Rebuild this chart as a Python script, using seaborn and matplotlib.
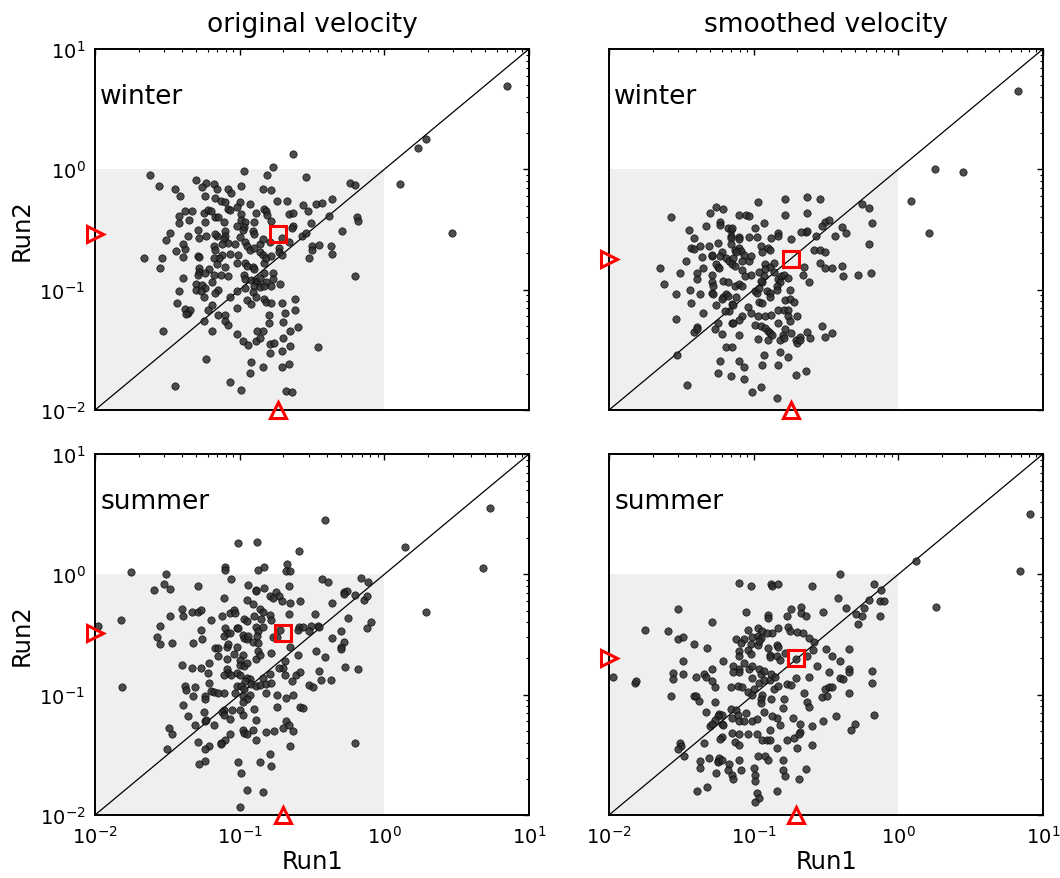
import numpy as np
import matplotlib
matplotlib.use("Agg")
import matplotlib.pyplot as plt
import seaborn as sns
from matplotlib.patches import Rectangle

# --- data: log10 velocities ---
# winter, original velocity
WINTER_ORIG_RUN1 = [
    -0.63, -0.77, -0.97, -1.62, -0.81, -0.54, -1.30, -1.56, -1.23, -1.18,
    -1.26, -0.99, -1.45, -1.16, -0.84, -0.78, -1.08, -1.06, -1.41, -1.24,
    -1.17, -1.13, -1.10, -1.00, -0.74, -0.67, -0.93, -1.02, -0.56, -0.47,
    -0.43, -0.36, -0.24, -0.20, -0.83, -0.82, -1.08, -1.07, -1.38, -1.33,
    -1.25, -1.22, -1.20, -0.99, -0.89, -0.66, -0.63, -0.53, -0.38, -1.42,
    -1.17, -1.15, -1.11, -0.99, -0.96, -0.90, -0.81, -0.78, -1.35, -1.24,
    -1.29, -1.42, -1.02, -0.97, -0.98, -0.91, -0.90, -1.10, -1.10, -1.16,
    -1.23, -1.28, -1.48, -1.36, -1.51, -1.17, -1.11, -1.08, -1.12, -1.00,
    -1.03, -0.96, -0.95, -0.86, -0.84, -0.79, -0.71, -0.66, -0.63, -0.64,
    -0.57, -0.54, -0.51, -0.29, -0.19, -0.18, -0.50, -0.45, -0.37, -0.50,
    -0.36, -0.52, -0.73, -0.73, -0.71, -1.38, -1.39, -1.44, -1.39, -1.29,
    -1.28, -1.66, -1.54, -1.55, -1.18, -1.17, -1.07, -1.12, -1.14, -1.18,
    -1.16, -1.01, -0.93, -0.90, -0.86, -0.84, -0.83, -0.82, -0.78, -1.02,
    -0.96, -0.95, -0.91, -0.90, -1.10, -1.28, -1.28, -1.29, -1.21, -1.24,
    -1.18, -1.13, -1.08, -1.39, -0.97, -0.96, -0.92, -0.89, -0.88, -0.90,
    -0.83, -0.77, -0.77, -0.78, -0.82, -0.72, -0.86, -0.20, -1.30, -1.26,
    -1.30, -1.24, -1.27, -1.19, -1.15, -1.17, -0.96, -1.02, -0.91, -0.86,
    -0.83, -0.89, -1.42, -1.25, -1.07, -0.83, -0.82, -0.95, -0.92, -0.78,
    -0.71, -0.62, -1.43, -1.02, -1.19, -1.38, -1.36, -1.34, -1.37, -1.22,
    -1.15, -1.10, -0.69, -0.62, -0.80, -1.25, -1.10, -1.08, -0.80, -0.70,
    -0.60, -0.65, -0.84, -0.88, -1.19, -1.02, -1.53, -0.98, -0.94, -0.89,
    -0.86, -0.79, -0.76, -0.70, -0.65, -0.79, -0.71, -0.46, -1.23, -0.92,
    -0.93, -0.84, -0.71, -0.66, -1.45, -1.07, -0.99, -0.68, -0.64, 0.85,
    0.23, 0.29, 0.11, 0.47,
]
WINTER_ORIG_RUN2 = [
    0.125, 0.02, -0.01, -0.05, -0.05, -0.06, -0.09, -0.14, -0.11, -0.12,
    -0.15, -0.14, -0.16, -0.16, -0.16, -0.17, -0.16, -0.20, -0.22, -0.22,
    -0.24, -0.26, -0.27, -0.27, -0.26, -0.26, -0.29, -0.31, -0.30, -0.29,
    -0.28, -0.25, -0.11, -0.13, -0.33, -0.35, -0.33, -0.34, -0.35, -0.35,
    -0.36, -0.34, -0.35, -0.37, -0.36, -0.37, -0.36, -0.35, -0.39, -0.39,
    -0.40, -0.40, -0.44, -0.42, -0.44, -0.44, -0.38, -0.43, -0.42, -0.44,
    -0.50, -0.45, -0.47, -0.48, -0.50, -0.51, -0.54, -0.51, -0.55, -0.55,
    -0.55, -0.57, -0.53, -0.55, -0.59, -0.54, -0.58, -0.61, -0.62, -0.56,
    -0.62, -0.60, -0.64, -0.62, -0.58, -0.60, -0.57, -0.60, -0.47, -0.49,
    -0.55, -0.53, -0.45, -0.51, -0.40, -0.43, -0.64, -0.63, -0.64, -0.67,
    -0.70, -0.74, -0.65, -0.69, -0.71, -0.66, -0.62, -0.68, -0.73, -0.72,
    -0.73, -0.74, -0.74, -0.82, -0.64, -0.67, -0.70, -0.71, -0.74, -0.74,
    -0.79, -0.71, -0.67, -0.65, -0.69, -0.71, -0.78, -0.74, -0.72, -0.78,
    -0.78, -0.80, -0.81, -0.83, -0.81, -0.82, -0.85, -0.88, -0.83, -0.86,
    -0.88, -0.88, -0.89, -0.90, -0.88, -0.91, -0.92, -0.93, -0.94, -0.97,
    -0.86, -0.86, -0.91, -0.97, -0.94, -0.95, -0.90, -0.89, -0.95, -0.96,
    -1.00, -0.99, -1.01, -0.94, -1.00, -1.03, -0.99, -1.01, -1.02, -0.98,
    -0.97, -1.06, -1.01, -1.06, -1.06, -1.08, -1.10, -1.09, -1.12, -1.11,
    -1.11, -1.08, -1.11, -1.15, -1.13, -1.16, -1.19, -1.17, -1.20, -1.17,
    -1.21, -1.21, -1.19, -1.17, -1.21, -1.26, -1.26, -1.29, -1.28, -1.27,
    -1.31, -1.34, -1.34, -1.34, -1.34, -1.37, -1.34, -1.43, -1.46, -1.43,
    -1.40, -1.45, -1.44, -1.40, -1.47, -1.53, -1.51, -1.48, -1.58, -1.60,
    -1.69, -1.64, -1.64, -1.62, -1.80, -1.77, -1.83, -1.84, -1.85, 0.69,
    0.175, 0.25, -0.125, -0.53,
]

# winter, smoothed velocity
WINTER_SMOOTH_RUN1 = [
    -0.97, -0.78, -0.63, -0.54, -1.26, -1.30, -1.21, -1.57, -1.10, -1.05,
    -1.03, -0.78, -0.63, -0.25, -0.20, -0.18, -0.51, -0.48, -0.53, -0.39,
    -0.36, -0.44, -0.57, -0.64, -0.63, -0.67, -0.74, -0.83, -0.83, -0.88,
    -0.93, -0.99, -1.03, -0.98, -1.23, -1.23, -1.33, -1.45, -1.41, -1.18,
    -1.16, -1.15, -1.16, -1.16, -1.10, -1.10, -1.25, -1.31, -1.43, -1.41,
    -1.37, -1.16, -1.13, -1.10, -1.09, -1.12, -1.22, -1.23, -1.29, -1.29,
    -1.36, -1.47, -1.65, -1.62, -1.51, -1.54, -1.54, -1.44, -1.39, -1.39,
    -1.35, -1.37, -1.43, -1.35, -1.29, -1.29, -1.28, -1.29, -1.28, -1.25,
    -1.26, -1.24, -1.19, -1.17, -1.14, -1.15, -1.13, -1.07, -1.08, -1.03,
    -1.02, -0.95, -0.90, -0.89, -0.94, -0.92, -0.89, -0.92, -0.96, -0.93,
    -0.86, -0.86, -0.83, -0.81, -0.82, -0.79, -0.76, -1.08, -1.02, -1.06,
    -1.21, -1.18, -1.13, -1.10, -1.08, -0.99, -0.98, -0.96, -0.94, -0.95,
    -0.91, -0.89, -0.89, -0.84, -0.84, -0.75, -0.65, -0.66, -0.62, -0.58,
    -0.54, -0.51, -0.54, -0.51, -0.46, -0.39, -0.38, -0.28, -0.19, -0.20,
    -1.19, -1.21, -1.18, -1.12, -1.26, -1.22, -1.15, -1.14, -1.04, -1.02,
    -1.17, -1.20, -0.96, -0.94, -0.78, -0.75, -0.72, -1.08, -1.10, -1.15,
    -1.14, -0.97, -0.92, -0.88, -0.83, -0.79, -0.76, -0.76, -0.75, -0.70,
    -1.25, -1.39, -1.41, -1.39, -1.27, -1.22, -1.10, -0.99, -0.95, -0.92,
    -0.90, -0.89, -0.87, -0.90, -0.83, -0.82, -0.80, -0.79, -0.78, -0.74,
    -0.71, -0.70, -0.68, -0.68, -0.63, -0.61, -0.53, -0.51, -0.46, -0.97,
    -1.19, -1.15, -1.53, -1.23, -0.93, -0.82, -0.76, -1.10, -1.07, -0.94,
    -0.83, -1.25, -0.64, -0.71, -1.16, -1.07, -1.46, -1.01, -0.95, -0.84,
    0.83, 0.255, 0.45, 0.09, 0.21,
]
WINTER_SMOOTH_RUN2 = [
    -0.27, -0.25, -0.23, -0.25, -0.31, -0.36, -0.33, -0.40, -0.38, -0.38,
    -0.39, -0.38, -0.36, -0.29, -0.32, -0.45, -0.44, -0.42, -0.47, -0.48,
    -0.53, -0.55, -0.55, -0.52, -0.51, -0.52, -0.58, -0.53, -0.55, -0.57,
    -0.45, -0.49, -0.56, -0.56, -0.44, -0.46, -0.47, -0.50, -0.57, -0.49,
    -0.50, -0.49, -0.55, -0.57, -0.56, -0.58, -0.61, -0.64, -0.65, -0.66,
    -0.64, -0.62, -0.67, -0.65, -0.68, -0.69, -0.69, -0.72, -0.72, -0.71,
    -0.73, -0.76, -0.82, -0.95, -0.86, -1.04, -1.24, -1.00, -0.86, -0.91,
    -0.82, -1.04, -1.11, -1.19, -0.88, -0.94, -0.97, -1.03, -1.04, -0.81,
    -0.79, -0.82, -0.74, -0.76, -0.74, -0.79, -0.80, -0.71, -0.76, -0.76,
    -0.72, -0.64, -0.65, -0.67, -0.69, -0.79, -0.81, -0.83, -0.85, -0.89,
    -0.78, -0.85, -0.91, -0.89, -0.94, -0.88, -0.90, -0.84, -0.88, -0.89,
    -0.93, -0.94, -0.97, -0.95, -0.97, -1.01, -1.03, -0.99, -0.94, -0.93,
    -1.01, -1.03, -1.06, -0.97, -1.00, -1.00, -0.81, -0.88, -0.94, -0.67,
    -0.67, -0.69, -0.78, -0.82, -0.82, -0.80, -0.89, -0.88, -0.86, -0.62,
    -1.04, -1.06, -1.05, -1.06, -1.13, -1.08, -1.12, -1.13, -1.14, -1.19,
    -1.18, -1.18, -1.10, -1.11, -1.09, -1.08, -1.10, -1.22, -1.25, -1.28,
    -1.28, -1.22, -1.22, -1.21, -1.17, -1.17, -1.17, -1.22, -1.26, -1.22,
    -1.28, -1.31, -1.35, -1.33, -1.33, -1.37, -1.38, -1.29, -1.30, -1.32,
    -1.34, -1.36, -1.38, -1.42, -1.28, -1.42, -1.38, -1.40, -1.33, -1.36,
    -1.42, -1.44, -1.39, -1.42, -1.35, -1.40, -1.30, -1.39, -1.36, -1.41,
    -1.48, -1.48, -1.54, -1.59, -1.54, -1.52, -1.56, -1.59, -1.64, -1.63,
    -1.63, -1.69, -1.68, -1.71, -1.72, -1.74, -1.79, -1.85, -1.81, -1.90,
    0.65, 0.0, -0.02, -0.26, -0.53,
]

# summer, original velocity
SUMMER_ORIG_RUN1 = [
    -1.01, -0.88, -0.59, -1.10, -1.10, -0.87, -0.83, -0.67, -0.68, -0.65,
    -1.75, -1.51, -1.06, -1.52, -1.48, -1.59, -1.29, -0.94, -0.89, -0.89,
    -0.83, -0.66, -0.43, -0.39, -0.16, -0.11, -0.75, -0.73, -0.79, -0.77,
    -0.71, -0.65, -0.58, -1.11, -0.95, -0.91, -0.36, -0.28, -0.26, -0.28,
    -0.20, -0.14, -0.12, -1.40, -1.33, -1.29, -1.27, -1.48, -1.39, -1.20,
    -1.12, -1.07, -1.04, -1.03, -0.97, -0.95, -0.90, -0.86, -0.84, -0.85,
    -0.79, -0.78, -0.66, -0.48, -0.46, -0.45, -0.51, -0.59, -0.25, -0.09,
    -0.12, -0.30, -0.36, -0.28, -0.30, -0.30, -1.82, -1.55, -1.57, -1.55,
    -1.47, -1.32, -1.26, -1.27, -1.10, -1.09, -1.11, -1.07, -1.02, -1.01,
    -0.98, -0.97, -0.95, -0.94, -0.91, -0.89, -0.87, -0.84, -0.88, -0.87,
    -0.77, -0.74, -0.65, -0.60, -0.56, -0.52, -0.72, -1.17, -1.15, -1.09,
    -1.08, -1.02, -1.15, -1.09, -1.04, -0.98, -1.00, -1.00, -0.97, -0.95,
    -0.87, -0.89, -0.86, -0.78, -0.69, -0.70, -0.60, -0.47, -0.41, -1.40,
    -1.33, -1.27, -1.21, -1.22, -1.09, -1.08, -1.11, -1.06, -1.02, -1.00,
    -0.95, -0.93, -0.96, -0.84, -0.79, -0.73, -0.69, -0.64, -0.61, -0.58,
    -0.45, -0.44, -0.37, -0.27, -0.18, -0.52, -0.49, -1.21, -1.20, -1.38,
    -1.37, -1.31, -1.18, -1.15, -1.02, -0.99, -0.97, -0.92, -0.89, -0.86,
    -0.82, -0.78, -1.03, -0.98, -0.93, -0.95, -0.98, -1.11, -0.82, -0.74,
    -0.68, -0.63, -0.58, -0.56, -1.32, -1.24, -1.24, -1.39, -1.36, -1.11,
    -1.05, -1.00, -0.90, -0.74, -1.25, -1.24, -1.23, -1.12, -1.11, -1.07,
    -0.98, -0.89, -1.31, -1.18, -1.07, -1.10, -1.13, -1.13, -0.98, -0.97,
    -0.95, -0.91, -0.82, -0.76, -0.70, -0.68, -0.66, -0.63, -0.65, -1.49,
    -1.47, -1.50, -1.29, -1.21, -1.24, -0.89, -0.79, -1.24, -1.28, -1.01,
    -0.86, -0.78, -0.99, -0.20, -1.81, -0.95, -0.84, -1.00, -1.98, -0.41,
    0.14, 0.29, 0.68, 0.73,
]
SUMMER_ORIG_RUN2 = [
    0.26, 0.27, 0.19, 0.06, 0.04, 0.04, 0.06, 0.09, 0.03, 0.03,
    0.02, 0.00, -0.04, -0.08, -0.12, -0.13, -0.10, -0.09, -0.13, -0.14,
    -0.11, -0.10, -0.04, -0.06, -0.03, -0.06, -0.15, -0.18, -0.18, -0.20,
    -0.22, -0.24, -0.22, -0.20, -0.21, -0.25, -0.24, -0.15, -0.14, -0.16,
    -0.17, -0.21, -0.18, -0.29, -0.31, -0.31, -0.30, -0.35, -0.35, -0.38,
    -0.35, -0.32, -0.30, -0.32, -0.37, -0.39, -0.35, -0.29, -0.31, -0.37,
    -0.34, -0.38, -0.33, -0.33, -0.43, -0.44, -0.43, -0.44, -0.36, -0.40,
    -0.45, -0.47, -0.53, -0.56, -0.60, -0.62, -0.38, -0.43, -0.52, -0.58,
    -0.57, -0.57, -0.54, -0.46, -0.45, -0.49, -0.51, -0.49, -0.45, -0.45,
    -0.50, -0.53, -0.54, -0.51, -0.56, -0.44, -0.47, -0.44, -0.51, -0.57,
    -0.52, -0.52, -0.60, -0.46, -0.44, -0.47, -0.46, -0.61, -0.61, -0.60,
    -0.58, -0.60, -0.68, -0.70, -0.66, -0.67, -0.71, -0.75, -0.76, -0.74,
    -0.64, -0.70, -0.67, -0.65, -0.72, -0.78, -0.67, -0.64, -0.69, -0.75,
    -0.78, -0.78, -0.74, -0.82, -0.79, -0.82, -0.84, -0.84, -0.82, -0.84,
    -0.86, -0.87, -0.89, -0.86, -0.83, -0.78, -0.84, -0.89, -0.84, -0.81,
    -0.80, -0.88, -0.88, -0.77, -0.79, -0.92, -0.94, -0.90, -0.97, -0.93,
    -0.96, -0.94, -0.98, -0.99, -0.93, -0.93, -0.95, -0.91, -0.93, -0.92,
    -0.91, -0.90, -0.99, -1.01, -1.00, -1.04, -1.06, -0.99, -0.99, -1.00,
    -1.03, -1.00, -1.10, -1.11, -1.01, -1.01, -1.04, -1.09, -1.18, -1.13,
    -1.13, -1.13, -1.12, -1.10, -1.14, -1.22, -1.21, -1.14, -1.17, -1.20,
    -1.17, -1.21, -1.25, -1.25, -1.33, -1.38, -1.40, -1.41, -1.29, -1.32,
    -1.33, -1.29, -1.31, -1.30, -1.28, -1.22, -1.25, -1.30, -1.43, -1.28,
    -1.33, -1.45, -1.39, -1.43, -1.45, -1.38, -1.49, -1.55, -1.58, -1.56,
    -1.56, -1.59, -1.65, -1.40, -0.94, -1.79, -1.81, -1.93, -0.43, 0.45,
    0.23, -0.31, 0.05, 0.55,
]

# summer, smoothed velocity
SUMMER_SMOOTH_RUN1 = [
    -0.40, -1.10, -1.02, -0.88, -0.87, -0.83, -0.60, -0.17, -0.12, -0.42,
    -0.20, -0.13, -0.10, -0.36, -0.24, -0.29, -0.25, -0.28, -0.13, -1.52,
    -1.05, -0.90, -0.90, -0.74, -0.77, -0.67, -0.67, -0.64, -0.52, -1.29,
    -1.75, -1.59, -1.52, -1.49, -1.41, -1.32, -1.04, -0.97, -0.94, -0.87,
    -0.83, -0.76, -0.75, -0.70, -0.66, -0.62, -0.58, -1.12, -1.07, -1.01,
    -0.97, -0.95, -0.91, -1.09, -1.02, -0.97, -0.96, -0.90, -0.84, -0.83,
    -1.10, -1.04, -1.02, -1.10, -0.89, -0.89, -0.84, -0.82, -0.78, -0.71,
    -0.63, -0.59, -0.50, -0.46, -0.40, -0.34, -1.49, -1.49, -1.56, -1.56,
    -1.97, -1.82, -1.81, -1.40, -1.34, -1.33, -1.29, -1.29, -1.27, -1.21,
    -1.14, -1.10, -1.10, -1.14, -1.07, -1.03, -1.01, -0.96, -0.95, -0.93,
    -1.01, -0.96, -0.93, -0.89, -0.88, -0.85, -1.16, -1.11, -1.08, -1.04,
    -1.00, -1.01, -0.94, -0.95, -0.95, -0.88, -0.86, -0.83, -0.77, -0.74,
    -0.71, -0.62, -0.56, -0.48, -0.40, -0.38, -0.34, -0.34, -0.51, -0.48,
    -0.46, -0.53, -0.49, -0.34, -0.18, -0.18, -0.65, -0.63, -0.62, -0.79,
    -0.80, -0.84, -1.57, -1.41, -1.40, -1.38, -1.33, -1.27, -1.24, -1.22,
    -1.25, -1.22, -1.21, -1.27, -1.30, -1.29, -1.16, -1.15, -1.12, -1.11,
    -1.10, -1.07, -1.05, -1.01, -0.98, -0.93, -0.87, -0.82, -0.73, -0.68,
    -0.68, -0.60, -0.60, -0.52, -0.43, -0.30, -0.33, -0.17, -1.22, -1.23,
    -1.15, -1.13, -1.10, -1.10, -1.04, -0.98, -0.94, -0.91, -0.89, -0.89,
    -0.84, -0.77, -0.72, -0.70, -0.69, -1.51, -1.50, -1.52, -1.48, -1.34,
    -1.37, -1.37, -1.31, -1.25, -1.24, -1.25, -1.22, -1.17, -1.18, -1.26,
    -1.15, -1.14, -1.10, -1.09, -0.97, -0.92, -0.90, -1.00, -0.99, -0.99,
    -0.80, -0.80, -0.78, -0.69, -0.64, -0.98, -0.96, -0.99, -0.84, -1.32,
    -1.39, 0.91, 0.84, 0.12, 0.26,
]
SUMMER_SMOOTH_RUN2 = [
    0.00, -0.07, -0.10, -0.08, -0.10, -0.08, -0.10, -0.08, -0.13, -0.20,
    -0.21, -0.22, -0.22, -0.28, -0.28, -0.33, -0.35, -0.41, -0.35, -0.29,
    -0.31, -0.34, -0.36, -0.29, -0.35, -0.27, -0.32, -0.35, -0.31, -0.40,
    -0.46, -0.47, -0.54, -0.52, -0.58, -0.61, -0.46, -0.45, -0.47, -0.49,
    -0.45, -0.44, -0.47, -0.48, -0.49, -0.53, -0.56, -0.54, -0.54, -0.52,
    -0.51, -0.53, -0.49, -0.57, -0.58, -0.59, -0.55, -0.61, -0.59, -0.60,
    -0.64, -0.63, -0.66, -0.68, -0.67, -0.69, -0.68, -0.71, -0.65, -0.70,
    -0.68, -0.63, -0.62, -0.68, -0.72, -0.62, -0.72, -0.83, -0.82, -0.87,
    -0.85, -0.90, -0.89, -0.85, -0.83, -0.85, -0.79, -0.89, -0.94, -0.72,
    -0.76, -0.79, -0.81, -0.81, -0.74, -0.79, -0.76, -0.79, -0.83, -0.80,
    -0.86, -0.90, -0.88, -0.88, -0.83, -0.85, -0.94, -0.93, -0.94, -0.98,
    -0.95, -1.00, -1.00, -1.04, -1.07, -1.04, -0.95, -0.93, -0.91, -0.92,
    -0.86, -0.85, -0.76, -0.81, -0.86, -0.87, -0.79, -0.81, -0.95, -0.94,
    -0.94, -1.02, -1.01, -0.99, -0.80, -0.90, -0.99, -1.06, -1.10, -1.04,
    -1.11, -1.19, -1.01, -1.01, -1.01, -1.05, -1.14, -1.06, -1.16, -1.17,
    -1.18, -1.24, -1.25, -1.21, -1.26, -1.24, -1.12, -1.19, -1.13, -1.17,
    -1.22, -1.22, -1.15, -1.22, -1.20, -1.14, -1.18, -1.25, -1.19, -1.24,
    -1.31, -1.26, -1.42, -1.22, -1.18, -1.24, -1.29, -1.17, -1.35, -1.37,
    -1.32, -1.39, -1.33, -1.42, -1.33, -1.33, -1.38, -1.38, -1.38, -1.29,
    -1.44, -1.38, -1.36, -1.44, -1.33, -1.40, -1.43, -1.45, -1.51, -1.40,
    -1.55, -1.61, -1.53, -1.55, -1.53, -1.56, -1.54, -1.58, -1.63, -1.65,
    -1.67, -1.70, -1.54, -1.63, -1.51, -1.51, -1.54, -1.61, -1.67, -1.72,
    -1.54, -1.63, -1.68, -1.70, -1.62, -1.82, -1.86, -1.89, -1.80, -1.77,
    -1.80, 0.50, 0.025, 0.11, -0.27,
]

# medians (red square / triangles)
MEDIAN_RUN1 = {"winter_orig": 0.185, "winter_smooth": 0.18,
               "summer_orig": 0.20, "summer_smooth": 0.195}
MEDIAN_RUN2 = {"winter_orig": 0.29, "winter_smooth": 0.18,
               "summer_orig": 0.325, "summer_smooth": 0.20}

COL_TITLES = ["original velocity", "smoothed velocity"]
ROW_LABELS = ["winter", "summer"]

sns.set_style("white")
plt.rcParams["font.family"] = ["DejaVu Sans"]
plt.rcParams["text.color"] = "black"
plt.rcParams["axes.labelcolor"] = "black"
plt.rcParams["xtick.color"] = "black"
plt.rcParams["ytick.color"] = "black"
plt.rcParams["axes.unicode_minus"] = False
plt.rcParams["xtick.direction"] = "in"
plt.rcParams["ytick.direction"] = "in"
plt.rcParams["xtick.top"] = True
plt.rcParams["ytick.right"] = True

fig = plt.figure(figsize=(10.6, 8.79), dpi=100)
W, H = 1060.0, 879.0
# pixel boxes of the four panels: (left, top, right, bottom)
boxes = {(0, 0): (95, 50, 529, 411), (0, 1): (609, 50, 1043, 411),
         (1, 0): (95, 455, 529, 816), (1, 1): (609, 455, 1043, 816)}

panels = {
    (0, 0): ("winter_orig", WINTER_ORIG_RUN1, WINTER_ORIG_RUN2),
    (0, 1): ("winter_smooth", WINTER_SMOOTH_RUN1, WINTER_SMOOTH_RUN2),
    (1, 0): ("summer_orig", SUMMER_ORIG_RUN1, SUMMER_ORIG_RUN2),
    (1, 1): ("summer_smooth", SUMMER_SMOOTH_RUN1, SUMMER_SMOOTH_RUN2),
}

for (r, c), (key, lx, ly) in panels.items():
    l, t, rr, b = boxes[(r, c)]
    ax = fig.add_axes([l / W, 1 - b / H, (rr - l) / W, (b - t) / H])
    ax.set_xscale("log")
    ax.set_yscale("log")
    ax.set_xlim(1e-2, 1e1)
    ax.set_ylim(1e-2, 1e1)

    # light grey box for the 0.01-1 range and 1:1 line
    ax.add_patch(Rectangle((1e-2, 1e-2), 1 - 1e-2, 1 - 1e-2,
                           facecolor="#efefef", edgecolor="none", zorder=0))
    ax.plot([1e-2, 1e1], [1e-2, 1e1], color="black", lw=0.9, zorder=1)

    run1 = np.power(10.0, np.array(lx))
    run2 = np.power(10.0, np.array(ly))
    sns.scatterplot(x=run1, y=run2, ax=ax, color="#2e2e2e", s=28,
                    alpha=0.85, edgecolor="black", linewidth=0.5, zorder=2)

    mx, my = MEDIAN_RUN1[key], MEDIAN_RUN2[key]
    red = dict(color="red", mfc="none", mew=2.2, ls="none", clip_on=False, zorder=5)
    ax.plot([mx], [my], marker="s", ms=12, **red)
    ax.plot([1e-2], [my], marker=">", ms=12, **red)
    ax.plot([mx], [1e-2], marker="^", ms=12, **red)

    ax.text(0.012, 0.87, ROW_LABELS[r], transform=ax.transAxes,
            fontsize=19, va="center", ha="left")

    for sp in ax.spines.values():
        sp.set_linewidth(1.4)
        sp.set_color("black")
    ax.tick_params(which="major", length=4, width=1, labelsize=14, pad=7)
    ax.tick_params(which="minor", length=2.5, width=0.8)

    if r == 0:
        ax.set_title(COL_TITLES[c], fontsize=19, pad=13)
        ax.tick_params(labelbottom=False)
    else:
        ax.set_xlabel("Run1", fontsize=17.5, labelpad=2)
    if c == 0:
        ax.set_ylabel("Run2", fontsize=17.5, labelpad=4)
    else:
        ax.tick_params(labelleft=False)

fig.savefig("out.png", dpi=100)
